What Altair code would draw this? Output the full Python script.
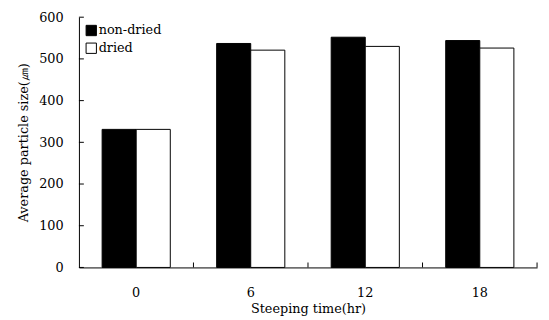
import altair as alt
import pandas as pd

times = ["0", "6", "12", "18"]
non_dried = [331, 537, 552, 544]
dried = [331, 521, 530, 526]
series = ["non-dried", "dried"]
y_ticks = [0, 100, 200, 300, 400, 500, 600]

rows = []
for t, a, b in zip(times, non_dried, dried):
    rows.append({"time": t, "type": series[0], "size": a})
    rows.append({"time": t, "type": series[1], "size": b})
df = pd.DataFrame(rows)
tick_df = pd.DataFrame({"v": y_ticks})
cat_df = pd.DataFrame({"time": times})

W, H = 465, 254
FONT = "DejaVu Serif"

xscale = alt.Scale(domain=times, paddingInner=0, paddingOuter=0)
yscale = alt.Scale(domain=[0, 600])

bars = alt.Chart(df).mark_bar(stroke="black", strokeWidth=1).encode(
    x=alt.X("time:N", sort=times, scale=xscale,
            axis=alt.Axis(title="Steeping time(hr)", labelAngle=0, ticks=False,
                          labelPadding=19, titlePadding=4)),
    xOffset=alt.XOffset("type:N", sort=series,
                        scale=alt.Scale(domain=series, paddingInner=0, paddingOuter=0.68)),
    y=alt.Y("size:Q", scale=yscale,
            axis=alt.Axis(title="Average particle size(㎛)", values=y_ticks, ticks=False,
                          labelPadding=16, titlePadding=8, grid=False)),
    color=alt.Color("type:N", sort=series,
                    scale=alt.Scale(domain=series, range=["black", "white"]),
                    legend=alt.Legend(title=None, orient="none", legendX=6, legendY=7,
                                      symbolType="square", symbolSize=110,
                                      symbolStrokeColor="black", symbolStrokeWidth=1,
                                      labelFont=FONT, labelFontSize=13, rowPadding=3,
                                      labelOffset=1)),
)

yt = alt.Chart(tick_df).mark_rule(color="black").encode(
    y=alt.Y("v:Q", scale=yscale),
    x=alt.value(0), x2=alt.value(5),
)

xt = alt.Chart(cat_df).mark_rule(color="black").encode(
    x=alt.X("time:N", sort=times, scale=xscale, bandPosition=1),
    y=alt.value(H), y2=alt.value(H - 5),
)

chart = alt.layer(bars, yt, xt).properties(
    width=W, height=H,
    autosize="none",
    padding={"left": 72, "top": 7, "right": 4, "bottom": 50},
).configure_view(stroke=None).configure_axis(
    domainColor="black", labelColor="black", titleColor="black",
    labelFont=FONT, titleFont=FONT, labelFontSize=13, titleFontSize=13,
    titleFontWeight="normal",
).configure_legend(labelColor="black", labelFont=FONT, labelFontSize=13)

chart.save("out.html", embed_options={"renderer": "svg", "actions": False})
